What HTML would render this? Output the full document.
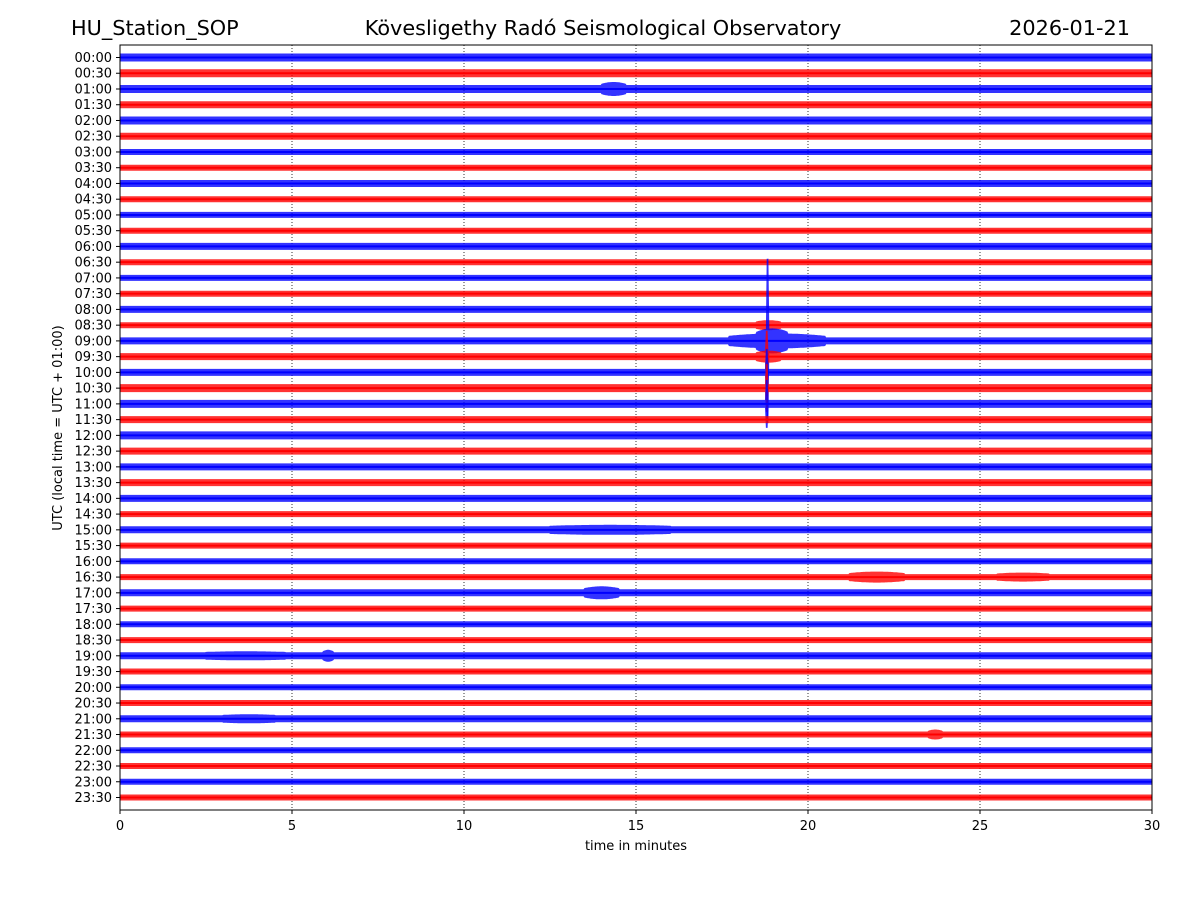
<!DOCTYPE html>
<html>
<head>
<meta charset="utf-8">
<style>
  html,body{margin:0;padding:0;background:#fff;}
  svg{display:block;font-family:"DejaVu Sans","Liberation Sans",sans-serif;}
</style>
</head>
<body>
<svg id="chart" width="1200" height="900" viewBox="0 0 1200 900" xmlns="http://www.w3.org/2000/svg">
  <rect x="0" y="0" width="1200" height="900" fill="#fff"/>
  <text x="71" y="35" font-size="20.8">HU_Station_SOP</text>
  <text x="603" y="35" font-size="20.8" text-anchor="middle">Kövesligethy Radó Seismological Observatory</text>
  <text x="1130" y="35" font-size="20.8" text-anchor="end">2026-01-21</text>
  <g id="grid"></g>
  <g id="traces"></g>
  <rect x="120" y="45" width="1032" height="765" fill="none" stroke="#000" stroke-width="1"/>
  <g id="yticks"></g>
  <g id="xticks"></g>
  <text x="636" y="850" font-size="13" text-anchor="middle">time in minutes</text>
  <text font-size="13" text-anchor="middle" transform="translate(62,428) rotate(-90)">UTC (local time = UTC + 01:00)</text>
</svg>
<script>
// ---- data ----
const rowLabels = ["00:00","00:30","01:00","01:30","02:00","02:30","03:00","03:30","04:00","04:30","05:00","05:30","06:00","06:30","07:00","07:30","08:00","08:30","09:00","09:30","10:00","10:30","11:00","11:30","12:00","12:30","13:00","13:30","14:00","14:30","15:00","15:30","16:00","16:30","17:00","17:30","18:00","18:30","19:00","19:30","20:00","20:30","21:00","21:30","22:00","22:30","23:00","23:30"];
const rowBaseAmp = [4,4,4,3.5,4,3.5,3,3,3.5,3,3,3,3.5,3,3,3,3.5,3,3.5,3.5,3.5,4,4,3.5,4,3.5,3.5,3.5,3.5,3,3.5,3,3,3,3.5,3,3,3,3.5,3,3,3,3.5,3,3,3,3,3];
// events: row index, start minute, end minute, extra amplitude (px)
const evRow   = [2,   18,   18,   18,   17,   19,   19,   20,   21,   22,   30,   33,   33,   34,   38,  38,   42,  43];
const evStart = [14.0,17.7, 18.5, 18.78,18.5, 18.5, 18.76,18.76,18.76,18.76,12.5, 21.2, 25.5, 13.5, 5.9, 2.5, 3.0, 23.5];
const evEnd   = [14.7,20.5, 19.4, 18.86,19.2, 19.2, 18.84,18.84,18.84,18.84,16.0, 22.8, 27.0, 14.5, 6.2, 4.8, 4.5, 23.9];
const evAmp   = [3,   4,    5,    70,   2,    2.5,  20,   20,   20,   20,   1.5,  2.5,  1.5,  3,    2.5, 1,   1,   2];
const xTicks = [0,5,10,15,20,25,30];

// ---- axes ----
const X0=120, X1=1152, Y0=57.5, DY=(797.5-57.5)/47;
const xs = m => X0 + (X1-X0)*m/30;
const ys = r => Y0 + r*DY;
const NS="http://www.w3.org/2000/svg";
function mk(tag, parent){const e=document.createElementNS(NS,tag);parent.appendChild(e);return e;}

const grid=document.getElementById('grid');
xTicks.slice(1,-1).forEach(t=>{
  const l=mk('line',grid);
  
  
  l.setAttribute('x1',xs(t));l.setAttribute('x2',xs(t));l.setAttribute('y1',45);l.setAttribute('y2',810);
  l.setAttribute('stroke','#000');l.setAttribute('stroke-width','0.8');l.setAttribute('stroke-dasharray','1,2');
});

const xt=document.getElementById('xticks');
xTicks.forEach(t=>{
  const l=mk('line',xt);
  
  
  l.setAttribute('x1',xs(t));l.setAttribute('x2',xs(t));l.setAttribute('y1',810);l.setAttribute('y2',814);l.setAttribute('stroke','#000');
  const tx=mk('text',xt);
  
  
  tx.setAttribute('x',xs(t));tx.setAttribute('y',830);tx.setAttribute('font-size','13');tx.setAttribute('text-anchor','middle');
  tx.textContent=t;
});

const yt=document.getElementById('yticks');
const tr=document.getElementById('traces');
rowLabels.forEach((lab,r)=>{
  const y=ys(r);
  const l=mk('line',yt);
  
  
  l.setAttribute('x1',116);l.setAttribute('x2',120);l.setAttribute('y1',y);l.setAttribute('y2',y);l.setAttribute('stroke','#000');
  const tx=mk('text',yt);
  
  
  tx.setAttribute('x',112);tx.setAttribute('y',y+4.5);tx.setAttribute('font-size','13');tx.setAttribute('text-anchor','end');
  tx.textContent=lab;

  const color = r%2===0 ? '#0000ff' : '#ff0000';
  const top=[], bot=[];
  const N=1200;
  for(let i=0;i<=N;i++){
    const m=30*i/N;
    let a=rowBaseAmp[r];
    for(let k=0;k<evRow.length;k++){
      if(evRow[k]!==r) continue;
      if(m>=evStart[k] && m<=evEnd[k]){
        const c=(evStart[k]+evEnd[k])/2, h=(evEnd[k]-evStart[k])/2;
        const narrow = h<0.1;
        a+=evAmp[k]*(narrow ? 1 : (1-Math.pow(Math.abs(m-c)/h,2)*0.6));
      }
    }
    top.push(xs(m).toFixed(1)+','+(y-a).toFixed(1));
    bot.push(xs(m).toFixed(1)+','+(y+a).toFixed(1));
  }
  const p=mk('polygon',tr);
  
  
  p.setAttribute('points',top.concat(bot.reverse()).join(' '));
  p.setAttribute('fill',color);
  p.setAttribute('fill-opacity','0.8');
  const c=mk('line',tr);
  
  
  c.setAttribute('x1',X0);c.setAttribute('x2',X1);c.setAttribute('y1',y);c.setAttribute('y2',y);
  c.setAttribute('stroke',color);c.setAttribute('stroke-width','2');
});
</script>
</body>
</html>
